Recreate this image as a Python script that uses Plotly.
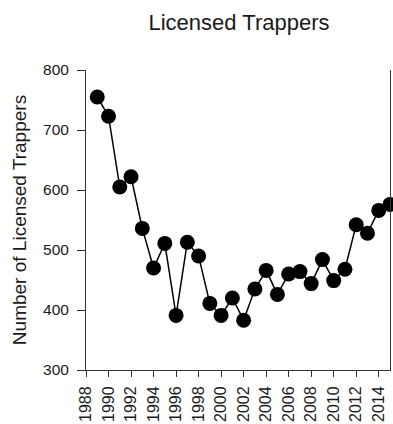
import plotly.graph_objects as go

years = list(range(1989, 2016))
trappers = [755, 723, 605, 622, 536, 470, 511, 391, 513, 490, 411, 391, 420,
            383, 435, 466, 426, 460, 464, 444, 484, 449, 468, 542, 528, 566, 576]
x_ticks = list(range(1988, 2015, 2))
y_ticks = [300, 400, 500, 600, 700, 800]

font_family = "Liberation Sans, Arial, sans-serif"
ink = "#1a1a1a"

fig = go.Figure(
    go.Scatter(
        x=years,
        y=trappers,
        mode="lines+markers",
        line=dict(color="black", width=1.5),
        marker=dict(color="black", size=15),
        cliponaxis=False,
    )
)

fig.update_layout(
    width=393,
    height=424,
    margin=dict(l=86, r=2, t=70, b=51),
    paper_bgcolor="white",
    plot_bgcolor="white",
    showlegend=False,
    title=dict(
        text="Licensed Trappers",
        x=239 / 393,
        xanchor="center",
        y=1 - 22 / 424,
        yanchor="middle",
        font=dict(family=font_family, size=22, color=ink),
    ),
    font=dict(family=font_family, color=ink),
)

fig.update_xaxes(
    range=[1988, 2015],
    tickvals=x_ticks,
    ticktext=[str(v) for v in x_ticks],
    tickangle=-90,
    ticks="outside",
    ticklen=6,
    tickwidth=1,
    tickcolor="#333",
    ticklabelstandoff=3,
    showline=True,
    linecolor="#333",
    linewidth=1,
    mirror=False,
    showgrid=False,
    zeroline=False,
    tickfont=dict(size=16, family=font_family, color=ink),
)

fig.update_yaxes(
    range=[300, 800],
    tickvals=y_ticks,
    ticks="outside",
    ticklen=8,
    tickwidth=1,
    tickcolor="#333",
    ticklabelstandoff=5,
    showline=True,
    linecolor="#333",
    linewidth=1,
    mirror=True,
    showgrid=False,
    zeroline=False,
    tickfont=dict(size=15.5, family=font_family, color=ink),
    title=dict(
        text="Number of Licensed Trappers",
        font=dict(size=19, family=font_family, color=ink),
        standoff=11,
    ),
)

fig.write_html("out.html")
